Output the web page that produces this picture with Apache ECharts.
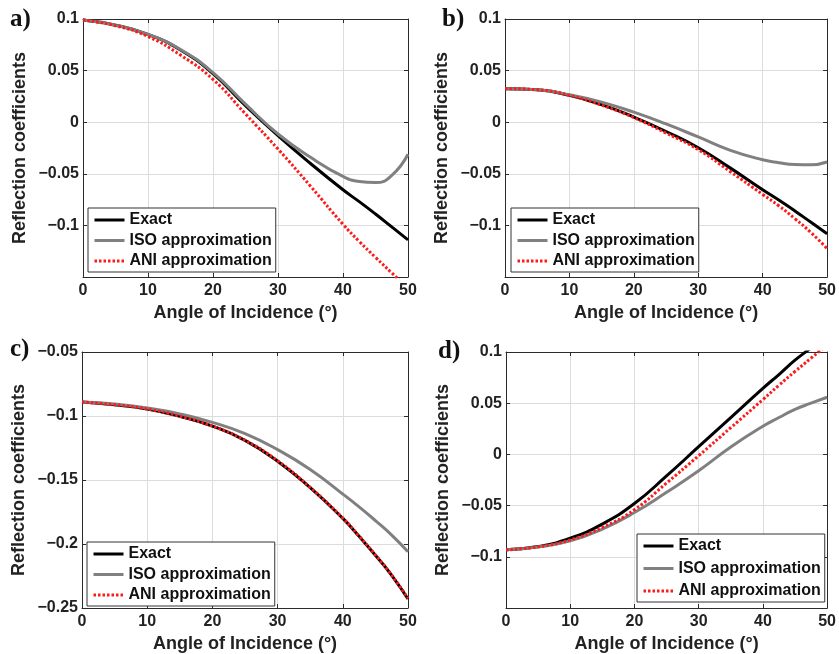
<!DOCTYPE html>
<html>
<head>
<meta charset="utf-8">
<script src="https://cdn.jsdelivr.net/npm/echarts@6/dist/echarts.min.js"></script>
<style>
  html, body { margin: 0; padding: 0; background: #fff; }
  #chart { width: 839px; height: 654px; }
</style>
</head>
<body>
<div id="chart"></div>
<script>
// Incidence angles (degrees) shared by every curve
const angles = [0, 5, 10, 15, 20, 25, 30, 35, 40, 42.5, 45, 47.5, 50];

// Panel a)
const exactA = [0.099, 0.094, 0.085, 0.070, 0.047, 0.016, -0.013, -0.040, -0.0655, -0.077, -0.089, -0.1015, -0.114];
const isoA   = [0.099, 0.094, 0.085, 0.0705, 0.048, 0.0175, -0.0114, -0.034, -0.0525, -0.0575, -0.0585, -0.0515, -0.031];
const aniA   = [0.099, 0.0935, 0.083, 0.065, 0.0415, 0.008, -0.026, -0.062, -0.099, -0.1155, -0.131, -0.146, -0.161];

// Panel b)
const exactB = [0.0325, 0.0315, 0.026, 0.017, 0.005, -0.009, -0.0247, -0.0445, -0.0655, -0.0755, -0.086, -0.097, -0.108];
const isoB   = [0.0325, 0.0315, 0.0266, 0.0195, 0.0097, -0.0017, -0.0143, -0.0273, -0.0364, -0.0392, -0.041, -0.0413, -0.0386];
const aniB   = [0.0325, 0.0315, 0.026, 0.0165, 0.0045, -0.0105, -0.0266, -0.048, -0.070, -0.081, -0.0935, -0.107, -0.1225];

// Panel c)
const exactC = [-0.0891, -0.0912, -0.0945, -0.1002, -0.1079, -0.119, -0.1353, -0.156, -0.180, -0.194, -0.2088, -0.2245, -0.243];
const isoC   = [-0.0891, -0.0907, -0.0938, -0.0984, -0.1050, -0.1138, -0.1263, -0.1418, -0.161, -0.171, -0.1817, -0.193, -0.206];
const aniC   = [-0.0891, -0.0912, -0.0945, -0.1002, -0.1079, -0.119, -0.1350, -0.1558, -0.1798, -0.1938, -0.2085, -0.2243, -0.2425];

// Panel d)
const exactD = [-0.0932, -0.090, -0.0819, -0.068, -0.048, -0.021, 0.0075, 0.036, 0.0645, 0.078, 0.092, 0.104, 0.116];
const isoD   = [-0.0932, -0.0905, -0.0845, -0.0729, -0.0568, -0.037, -0.016, 0.0072, 0.0275, 0.036, 0.044, 0.050, 0.0558];
const aniD   = [-0.0932, -0.0903, -0.0835, -0.0713, -0.054, -0.028, -0.0013, 0.0261, 0.0535, 0.0675, 0.081, 0.094, 0.107];

// Axis settings
const xTicks = [0, 10, 20, 30, 40, 50];
const panelLabels = ['a)', 'b)', 'c)', 'd)'];
const yRanges = [[-0.15, 0.1], [-0.15, 0.1], [-0.25, -0.05], [-0.15, 0.1]];
const hideMinLabel = [true, true, false, true];
const seriesNames = ['Exact', 'ISO approximation', 'ANI approximation'];
const panelData = [
  [exactA, isoA, aniA],
  [exactB, isoB, aniB],
  [exactC, isoC, aniC],
  [exactD, isoD, aniD]
];

// Layout
const grids = [
  { left: 83, top: 19, width: 325, height: 258 },
  { left: 505, top: 19, width: 326, height: 258 },
  { left: 82, top: 352, width: 326, height: 259 },
  { left: 506, top: 352, width: 325, height: 258 }
];
const legendPos = [
  { left: 88, top: 208, gap: 2.5 },
  { left: 511, top: 208, gap: 2.5 },
  { left: 87, top: 542, gap: 2.5 },
  { left: 637, top: 534, gap: 4.5 }
];
const labelPos = [[10, 21], [442, 21], [10, 351], [438, 353]];

const FONT = 'Liberation Sans, Arial, sans-serif';
const AXIS_COLOR = '#2b2b2b';
const GRID_COLOR = '#dcdcdc';
const lineStyles = [
  { color: '#000000', width: 3, type: 'solid' },
  { color: '#808080', width: 3, type: 'solid' },
  { color: '#ff1a1a', width: 3, type: [2.5, 2] }
];

function fmtTick(v) {
  const s = String(+(+v).toFixed(3));
  return s.replace('-', '\u2212');
}

const xAxes = [], yAxes = [], series = [], legends = [], graphics = [];

grids.forEach((g, i) => {
  const [ymin, ymax] = yRanges[i];
  // bottom x axis
  xAxes.push({
    type: 'value', gridIndex: i, min: 0, max: 50, interval: 10, position: 'bottom',
    name: 'Angle of Incidence (\u00b0)', nameLocation: 'middle', nameGap: 27,
    nameTextStyle: { fontFamily: FONT, fontWeight: 'bold', fontSize: 18, color: '#222' },
    axisLine: { show: true, onZero: false, lineStyle: { color: AXIS_COLOR, width: 1 } },
    axisTick: { show: true, inside: true, length: 4, lineStyle: { color: AXIS_COLOR } },
    axisLabel: { fontFamily: FONT, fontWeight: 'bold', fontSize: 16, color: '#222', margin: 6,
      formatter: v => xTicks.indexOf(+v) >= 0 ? String(v) : '' },
    splitLine: { show: true, lineStyle: { color: GRID_COLOR, width: 1 } }
  });
  // top x axis (box edge with inward ticks)
  xAxes.push({
    type: 'value', gridIndex: i, min: 0, max: 50, interval: 10, position: 'top',
    axisLine: { show: true, onZero: false, lineStyle: { color: AXIS_COLOR, width: 1 } },
    axisTick: { show: true, inside: true, length: 4, lineStyle: { color: AXIS_COLOR } },
    axisLabel: { show: false }, splitLine: { show: false }
  });
  // left y axis
  yAxes.push({
    type: 'value', gridIndex: i, min: ymin, max: ymax, interval: 0.05, position: 'left',
    name: 'Reflection coefficients', nameLocation: 'middle', nameGap: 54,
    nameTextStyle: { fontFamily: FONT, fontWeight: 'bold', fontSize: 18, color: '#222' },
    axisLine: { show: true, onZero: false, lineStyle: { color: AXIS_COLOR, width: 1 } },
    axisTick: { show: true, inside: true, length: 4, lineStyle: { color: AXIS_COLOR } },
    axisLabel: { fontFamily: FONT, fontWeight: 'bold', fontSize: 16, color: '#222', margin: 4,
      formatter: v => (hideMinLabel[i] && Math.abs(v - ymin) < 1e-6) ? '' : fmtTick(v) },
    splitLine: { show: true, lineStyle: { color: GRID_COLOR, width: 1 } }
  });
  // right y axis (box edge with inward ticks)
  yAxes.push({
    type: 'value', gridIndex: i, min: ymin, max: ymax, interval: 0.05, position: 'right',
    axisLine: { show: true, onZero: false, lineStyle: { color: AXIS_COLOR, width: 1 } },
    axisTick: { show: true, inside: true, length: 4, lineStyle: { color: AXIS_COLOR } },
    axisLabel: { show: false }, splitLine: { show: false }
  });

  panelData[i].forEach((vals, k) => {
    series.push({
      name: seriesNames[k], type: 'line',
      xAxisIndex: i * 2, yAxisIndex: i * 2,
      data: angles.map((a, j) => [a, vals[j]]),
      smooth: 0.5,
      symbol: 'none', clip: true,
      lineStyle: Object.assign({}, lineStyles[k]),
      itemStyle: { color: lineStyles[k].color },
      z: 2 + k, animation: false
    });
  });

  const lp = legendPos[i];
  legends.push({
    orient: 'vertical', left: lp.left, top: lp.top,
    data: seriesNames, selectedMode: false,
    itemWidth: 30, itemHeight: 14, itemGap: lp.gap,
    padding: [3, 4, 2, 5],
    backgroundColor: '#ffffff', borderColor: '#333333', borderWidth: 1,
    itemStyle: { opacity: 0 },
    lineStyle: { width: 3 },
    textStyle: { fontFamily: FONT, fontWeight: 'bold', fontSize: 16, color: '#111', lineHeight: 18 }
  });

  graphics.push({
    type: 'text', left: labelPos[i][0], top: labelPos[i][1] - 14,
    style: { text: panelLabels[i], font: 'bold 25px "Liberation Serif", "Times New Roman", serif', fill: '#111' }
  });
});

const chart = echarts.init(document.getElementById('chart'), null, { renderer: 'canvas' });
chart.setOption({
  animation: false,
  backgroundColor: '#ffffff',
  grid: grids.map(g => Object.assign({ containLabel: false }, g)),
  xAxis: xAxes,
  yAxis: yAxes,
  legend: legends,
  series: series,
  graphic: graphics
});
</script>
</body>
</html>
